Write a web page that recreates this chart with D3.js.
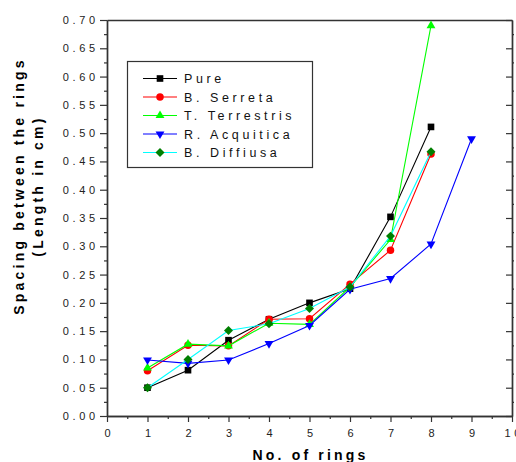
<!DOCTYPE html>
<html>
<head>
<meta charset="utf-8">
<script src="https://cdn.jsdelivr.net/npm/d3@7"></script>
<style>
  body { margin: 0; background: #fff; }
  svg { display: block; font-family: "Liberation Sans", Arial, sans-serif; }
</style>
</head>
<body>
<svg id="chart" width="516" height="462"></svg>
<script>
  // ---- data ----
  const seriesNames = ["Pure", "B. Serreta", "T. Terrestris", "R. Acquitica", "B. Diffiusa"];
  const pureX = [1, 2, 3, 4, 5, 6, 7, 8];
  const pureY = [0.050, 0.081, 0.134, 0.171, 0.200, 0.225, 0.352, 0.511];
  const serretaX = [1, 2, 3, 4, 5, 6, 7, 8];
  const serretaY = [0.080, 0.125, 0.124, 0.171, 0.172, 0.233, 0.293, 0.463];
  const terrestrisX = [1, 2, 3, 4, 5, 6, 7, 8];
  const terrestrisY = [0.085, 0.127, 0.124, 0.164, 0.162, 0.228, 0.312, 0.690];
  const acquiticaX = [1, 2, 3, 4, 5, 6, 7, 8, 9];
  const acquiticaY = [0.099, 0.093, 0.099, 0.128, 0.160, 0.224, 0.243, 0.304, 0.490];
  const diffiusaX = [1, 2, 3, 4, 5, 6, 7, 8];
  const diffiusaY = [0.050, 0.100, 0.151, 0.163, 0.190, 0.228, 0.318, 0.467];
  const xTicks = [0, 1, 2, 3, 4, 5, 6, 7, 8, 9, 10];
  const yTicks = [0, 0.05, 0.10, 0.15, 0.20, 0.25, 0.30, 0.35, 0.40, 0.45, 0.50, 0.55, 0.60, 0.65, 0.70];

  const styles = [
    { line: "#000000", fill: "#000000", shape: "square" },
    { line: "#ff0000", fill: "#ff0000", shape: "circle" },
    { line: "#00ff00", fill: "#00ff00", shape: "up" },
    { line: "#0000ff", fill: "#0000ff", shape: "down" },
    { line: "#00ffff", fill: "#007f00", shape: "diamond" }
  ];
  const series = [
    [pureX, pureY], [serretaX, serretaY], [terrestrisX, terrestrisY],
    [acquiticaX, acquiticaY], [diffiusaX, diffiusaY]
  ].map(([xs, ys], i) => ({ name: seriesNames[i], pts: xs.map((x, j) => [x, ys[j]]), ...styles[i] }));

  const svg = d3.select("#chart");
  const L = 107, R = 512, T = 20, B = 416;
  const x = d3.scaleLinear().domain([0, 10]).range([L, R]);
  const y = d3.scaleLinear().domain([0, 0.7]).range([B, T]);
  const axisColor = "#333";
  const tickFont = 11, tickLs = 3.6;

  // minor ticks at the half steps
  const xMinor = d3.range(0.5, 10, 1);
  const yMinor = d3.range(0.025, 0.7, 0.05);

  function styleAxis(g) {
    g.selectAll("path.domain").attr("stroke", axisColor).attr("stroke-width", 1.4);
    g.selectAll(".tick line").attr("stroke", axisColor).attr("stroke-width", 1.2);
  }

  // bottom
  svg.append("g").attr("transform", `translate(0,${B})`)
    .call(d3.axisBottom(x).tickValues(xMinor).tickSize(3).tickSizeOuter(0).tickFormat(""))
    .call(styleAxis);
  const xb = svg.append("g").attr("transform", `translate(0,${B})`)
    .call(d3.axisBottom(x).tickValues(xTicks).tickSize(6).tickSizeOuter(0).tickFormat(d3.format("d")))
    .call(styleAxis);
  xb.selectAll("text").attr("font-size", tickFont).attr("fill", "#222")
    .attr("font-family", "Liberation Sans, Arial, sans-serif")
    .attr("letter-spacing", tickLs).attr("dx", tickLs / 2).attr("y", 13);

  // left
  svg.append("g").attr("transform", `translate(${L},0)`)
    .call(d3.axisLeft(y).tickValues(yMinor).tickSize(3).tickSizeOuter(0).tickFormat(""))
    .call(styleAxis);
  const yl = svg.append("g").attr("transform", `translate(${L},0)`)
    .call(d3.axisLeft(y).tickValues(yTicks).tickSize(7).tickSizeOuter(0).tickFormat(d3.format(".2f")))
    .call(styleAxis);
  yl.selectAll("text").attr("font-size", tickFont).attr("fill", "#222")
    .attr("font-family", "Liberation Sans, Arial, sans-serif")
    .attr("letter-spacing", tickLs).attr("x", -12 + tickLs);

  // top (bare line) and right with inward major ticks
  svg.append("g").attr("transform", `translate(0,${T})`)
    .call(d3.axisTop(x).tickValues([]).tickSizeOuter(0))
    .call(styleAxis);
  svg.append("g").attr("transform", `translate(${R},0)`)
    .call(d3.axisRight(y).tickValues(yMinor).tickSize(2).tickSizeOuter(0).tickFormat(""))
    .call(styleAxis);
  svg.append("g").attr("transform", `translate(${R},0)`)
    .call(d3.axisRight(y).tickValues(yTicks).tickSize(-6).tickSizeOuter(0).tickFormat(""))
    .call(styleAxis);

  // markers
  const sym = {
    square: d3.symbol().type(d3.symbolSquare).size(44),
    circle: d3.symbol().type(d3.symbolCircle).size(44),
    up: d3.symbol().type(d3.symbolTriangle).size(34),
    down: d3.symbol().type(d3.symbolTriangle).size(34),
    diamond: d3.symbol().type(d3.symbolSquare).size(40)
  };
  function marker(g, s, cx, cy) {
    const rot = s.shape === "down" ? 180 : s.shape === "diamond" ? 45 : 0;
    g.append("path").attr("d", sym[s.shape]())
      .attr("transform", `translate(${cx},${cy}) rotate(${rot})`)
      .attr("fill", s.fill);
  }

  const line = d3.line().x(d => x(d[0])).y(d => y(d[1]));
  series.forEach(s => {
    const g = svg.append("g");
    g.append("path").attr("d", line(s.pts)).attr("fill", "none")
      .attr("stroke", s.line).attr("stroke-width", 1.1);
    s.pts.forEach(p => marker(g, s, x(p[0]), y(p[1])));
  });

  // legend
  const lg = svg.append("g");
  lg.append("rect").attr("x", 127.5).attr("y", 61.5).attr("width", 185).attr("height", 106)
    .attr("fill", "#fff").attr("stroke", "#333").attr("stroke-width", 1.2);
  series.forEach((s, i) => {
    const ly = 78.5 + i * 18.5;
    lg.append("line").attr("x1", 143).attr("x2", 177).attr("y1", ly).attr("y2", ly)
      .attr("stroke", s.line).attr("stroke-width", 1.1);
    marker(lg, s, 160, ly);
    lg.append("text").attr("x", 184).attr("y", ly + 4.5)
      .attr("font-size", 12.5).attr("letter-spacing", 3.6).attr("fill", "#111")
      .text(s.name);
  });

  // axis titles
  svg.append("text").attr("x", (L + R) / 2 + 1).attr("y", 460)
    .attr("text-anchor", "middle").attr("font-size", 14).attr("font-weight", "bold")
    .attr("letter-spacing", 3.2).text("No. of rings");
  const yt = svg.append("g").attr("transform", "translate(0,186) rotate(-90)");
  yt.append("text").attr("x", 0).attr("y", 24)
    .attr("text-anchor", "middle").attr("font-size", 14).attr("font-weight", "bold")
    .attr("letter-spacing", 3.2).text("Spacing between the rings");
  yt.append("text").attr("x", 0).attr("y", 43)
    .attr("text-anchor", "middle").attr("font-size", 14).attr("font-weight", "bold")
    .attr("letter-spacing", 3.2).text("(Length in cm)");
</script>
</body>
</html>
